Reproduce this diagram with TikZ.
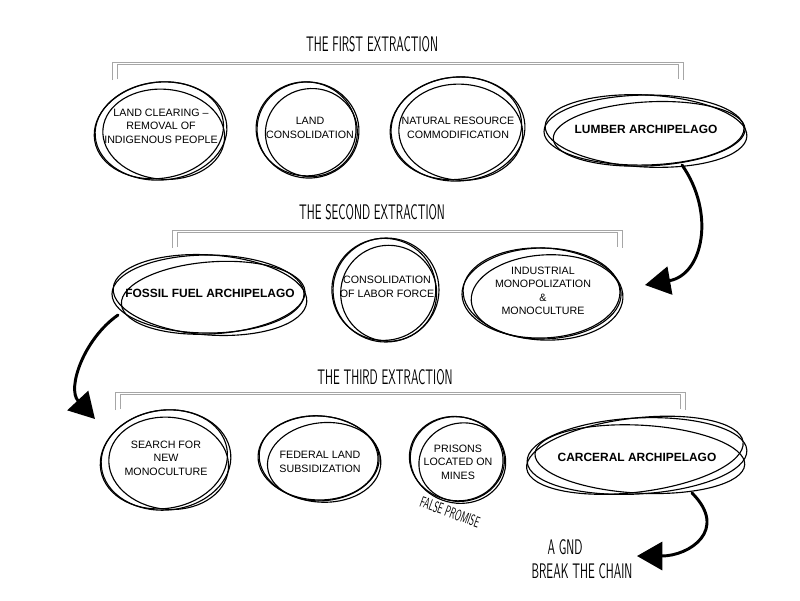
\documentclass[tikz,border=0pt]{standalone}
\usepackage{fontspec}
\setmainfont{Liberation Sans}
\usetikzlibrary{arrows.meta}
% sketchy ring: centre x, centre y, rx, ry, tilt
\newcommand\rings[5]{
    \draw[ring, rotate around={#5:(#1,#2)}] (#1,#2) ellipse ({#3} and {#4});
    \draw[ring, rotate around={-1*(#5):(#1,#2)}] ({#1+3},{#2-3}) ellipse ({#3-5} and {#4-4});
    \draw[ring, rotate around={#5+4:(#1,#2)}] ({#1-2},{#2+1}) ellipse ({#3-1} and {#4-1});
}
% double bracket over a row: left x, right x, top y
\newcommand\rail[3]{
    \draw[railline] (#1,{#3-18}) -- (#1,#3) -- (#2,#3) -- (#2,{#3-18});
    \draw[railline] ({#1+5},{#3-17}) -- ({#1+5},{#3-2}) -- ({#2-5},{#3-2}) -- ({#2-5},{#3-17});
}
\newcommand\hand[2]{\scalebox{0.55}[1]{\sffamily\fontsize{#1}{#1}\selectfont #2}}
\tikzset{
    ring/.style={line width=0.8pt},
    railline/.style={gray!70, line width=0.5pt},
    txt/.style={align=center, inner sep=0pt, font=\fontsize{7.6}{9.6}\selectfont},
    boldtxt/.style={align=center, inner sep=0pt, font=\fontsize{8.5}{10}\selectfont\bfseries},
    heading/.style={inner sep=0pt},
    flow/.style={line width=2.1pt, line cap=round, -{Triangle[length=18pt,width=20pt]}}
}

\begin{document}
\begin{tikzpicture}[x=0.025cm,y=0.025cm]
        \useasboundingbox (0,0) rectangle (800,-600);
        % first extraction
        \node[heading] (first) at (372,-44) {\hand{15}{THE FIRST EXTRACTION}};
        \rail{112}{683}{-62}
        \rings{161}{-131}{66}{49}{5}
        \rings{308}{-130}{51}{48}{-8}
        \rings{458}{-129}{67}{52}{4}
        \rings{646}{-131}{101}{36}{-3}
        \node[txt] (clearing) at (161,-126) {LAND CLEARING –\\REMOVAL OF\\INDIGENOUS PEOPLE};
        \node[txt] (consol) at (310,-128) {LAND\\CONSOLIDATION};
        \node[txt] (resource) at (458,-128) {NATURAL RESOURCE\\COMMODIFICATION};
        \node[boldtxt] (lumber) at (646,-129) {LUMBER ARCHIPELAGO};
        % second extraction
        \node[heading] (second) at (372,-212) {\hand{15}{THE SECOND EXTRACTION}};
        \rail{172}{622}{-230}
        \rings{210}{-295}{97}{40}{-4}
        \rings{386}{-290}{53}{52}{6}
        \rings{543}{-294}{80}{46}{-3}
        \node[boldtxt] (fossil) at (210,-293) {FOSSIL FUEL ARCHIPELAGO};
        \node[txt] (labor) at (387,-287) {CONSOLIDATION\\OF LABOR FORCE};
        \node[txt] (industry) at (543,-291) {INDUSTRIAL\\MONOPOLIZATION\\\&\\MONOCULTURE};
        % third extraction
        \node[heading] (third) at (385,-377) {\hand{15}{THE THIRD EXTRACTION}};
        \rail{115}{685}{-392}
        \rings{166}{-460}{65}{50}{6}
        \rings{320}{-459}{61}{43}{-6}
        \rings{458}{-460}{48}{43}{-15}
        \rings{637}{-456}{110}{38}{3}
        \node[txt] (search) at (166,-458) {SEARCH FOR\\NEW\\MONOCULTURE};
        \node[txt] (federal) at (320,-462) {FEDERAL LAND\\SUBSIDIZATION};
        \node[txt] (prisons) at (458,-462) {PRISONS\\LOCATED ON\\MINES};
        \node[boldtxt] (carceral) at (637,-457) {CARCERAL ARCHIPELAGO};
        \node[heading, rotate=-20] (promise) at (450,-512) {\hand{11}{FALSE PROMISE}};
        \node[heading] (gnd) at (565,-547) {\hand{15}{A GND}};
        \node[heading] (chain) at (582,-571) {\hand{15}{BREAK THE CHAIN}};
        % arrows
        \draw[flow] ([shift={(36,-36)}]lumber.center) to[out=-55,in=10,looseness=1.2] ([shift={(102,6)}]industry.center);
        \draw[flow] ([shift={(-92,-22)}]fossil.center) to[out=215,in=133] ([shift={(-71,39)}]search.center);
        \draw[flow] ([shift={(55,-36)}]carceral.center) to[out=-45,in=0,looseness=1.6] ([shift={(55,15)}]chain.center);
\end{tikzpicture}
\end{document}
